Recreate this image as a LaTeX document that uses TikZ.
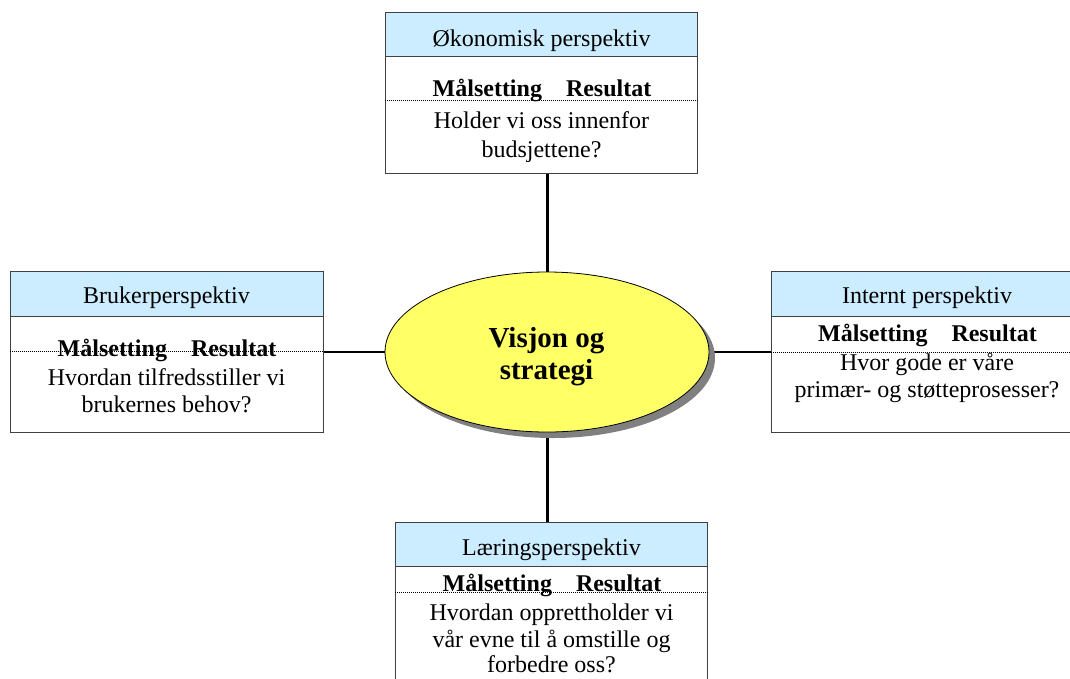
\documentclass[tikz,border=0pt]{standalone}
\usepackage{fontspec}
\setmainfont{Liberation Serif}
\usetikzlibrary{shapes.geometric,shadows}
\definecolor{headblue}{HTML}{CCECFF}
\definecolor{visyellow}{HTML}{FFFF66}
\definecolor{shade}{HTML}{808080}
\definecolor{frame}{HTML}{404040}
\pgfdeclarelayer{bg}
\pgfsetlayers{bg,main}
\begin{document}
\begin{tikzpicture}[x=1pt,y=-1pt,
  panel/.style={draw=frame, line width=1pt, fill=white, minimum width=312pt, inner sep=0pt},
  header/.style={draw=frame, line width=1pt, fill=headblue, minimum width=312pt, minimum height=44pt, inner sep=0pt},
  txt/.style={font=\fontsize{24}{27}\selectfont, anchor=base, inner sep=0pt},
  goal/.style={txt, font=\fontsize{24}{27}\selectfont\bfseries},
  vistxt/.style={font=\fontsize{29}{32}\selectfont\bfseries, anchor=base, inner sep=0pt},
  sep/.style={line width=0.6pt, dash pattern=on 1pt off 1pt},
  spoke/.style={line width=3pt, black},
  arm/.style={line width=1.5pt, shade}]
\clip (0,0) rectangle (1070,678);

% --- central ellipse ---
\node[ellipse, draw=black, line width=0.8pt, fill=visyellow,
      minimum width=324pt, minimum height=160pt, inner sep=0pt,
      drop shadow={shadow xshift=6pt, shadow yshift=-6pt, fill=shade, opacity=1}]
      (vis) at (547,352) {};
\node[vistxt] (vis1) at (546.5,347) {Visjon og};
\node[vistxt] (vis2) at (546.5,379) {strategi};

% --- economic perspective (top) ---
\node[panel, minimum height=161pt] (top) at (541.5,92.5) {};
\node[header] (topH) at (541.5,34) {};
\node[txt] (topT) at (541.5,46.5) {Økonomisk perspektiv};
\draw[sep] (top.west |- 0,100) -- (top.east |- 0,100);
\node[goal] (topG) at (542,96.5) {Målsetting\hspace{1em}Resultat};
\node[txt] (topQ1) at (541.5,128) {Holder vi oss innenfor};
\node[txt] (topQ2) at (541.5,157) {budsjettene?};

% --- user perspective (left) ---
\node[panel, minimum width=313pt, minimum height=161pt] (left) at (166.5,351.5) {};
\node[header, minimum width=313pt, minimum height=45pt] (leftH) at (166.5,293.5) {};
\node[txt] (leftT) at (166.5,303) {Brukerperspektiv};
\draw[sep] (left.west |- 0,351) -- (left.east |- 0,351);
\node[goal] (leftG) at (167,356.5) {Målsetting\hspace{1em}Resultat};
\node[txt] (leftQ1) at (166.5,385) {Hvordan tilfredsstiller vi};
\node[txt] (leftQ2) at (166.5,412) {brukernes behov?};

% --- internal perspective (right) ---
\node[panel, minimum height=161pt] (right) at (927,351.5) {};
\node[header, minimum height=45pt] (rightH) at (927,293.5) {};
\node[txt] (rightT) at (927,303) {Internt perspektiv};
\draw[sep] (right.west |- 0,352) -- (right.east |- 0,352);
\node[goal] (rightG) at (927.5,341) {Målsetting\hspace{1em}Resultat};
\node[txt] (rightQ1) at (927,370) {Hvor gode er våre};
\node[txt] (rightQ2) at (927,397.5) {primær- og støtteprosesser?};

% --- learning perspective (bottom) ---
\node[panel, minimum height=180pt] (bot) at (551.5,612) {};
\node[header] (botH) at (551.5,544) {};
\node[txt] (botT) at (551.5,555) {Læringsperspektiv};
\draw[sep] (bot.west |- 0,592) -- (bot.east |- 0,592);
\node[goal] (botG) at (552,591) {Målsetting\hspace{1em}Resultat};
\node[txt] (botQ1) at (551.5,620) {Hvordan opprettholder vi};
\node[txt] (botQ2) at (551.5,647) {vår evne til å omstille og};
\node[txt] (botQ3) at (551.5,672) {forbedre oss?};

% --- connectors, kept behind the shapes ---
\begin{pgfonlayer}{bg}
  \draw[spoke] (vis.north) -- (vis.north |- top.south);
  \draw[spoke] (vis.south) -- (vis.south |- bot.north);
  \draw[arm] (vis.west) -- (vis.west -| left.east);
  \draw[arm] (vis.east) -- (vis.east -| right.west);
\end{pgfonlayer}
\end{tikzpicture}
\end{document}
